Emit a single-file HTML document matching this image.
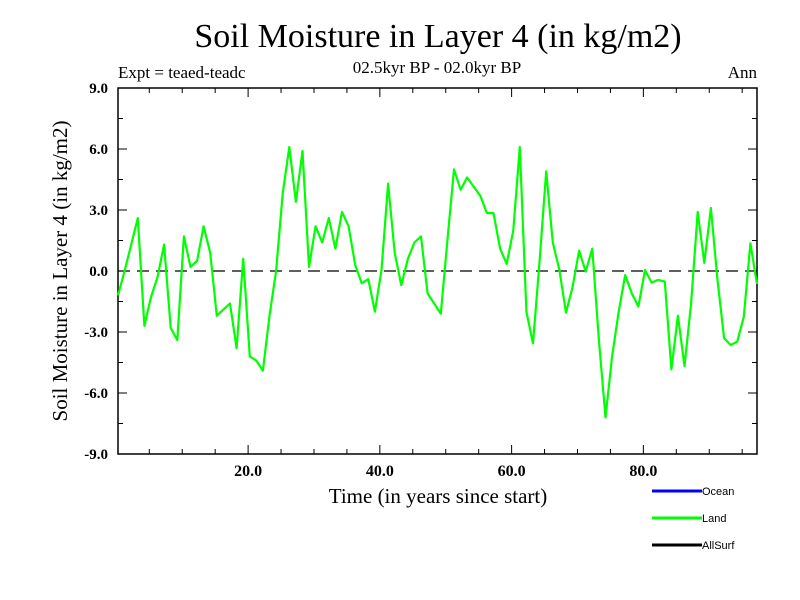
<!DOCTYPE html>
<html><head><meta charset="utf-8"><style>
body{margin:0;background:#fff;}
svg{display:block;font-family:"Liberation Serif",serif;}
</style></head><body>
<svg id="chart" width="800" height="600" xmlns="http://www.w3.org/2000/svg">
<rect width="800" height="600" fill="#fff"/>
<text x="438" y="47" font-size="34" text-anchor="middle">Soil Moisture in Layer 4 (in kg/m2)</text>
<text x="118" y="78" font-size="17">Expt = teaed-teadc</text>
<text x="437" y="73" font-size="17" text-anchor="middle">02.5kyr BP - 02.0kyr BP</text>
<text x="757" y="78" font-size="17" text-anchor="end">Ann</text>
<text x="438" y="503" font-size="21" text-anchor="middle">Time (in years since start)</text>
<text transform="translate(67,271) rotate(-90)" font-size="21" text-anchor="middle">Soil Moisture in Layer 4 (in kg/m2)</text>
<g id="axes"></g>
<g id="series"></g>
<g font-family="Liberation Sans, sans-serif" font-size="11">
<g><line x1="652" y1="491" x2="702" y2="491" stroke="#0000ff" stroke-width="3"/><text x="702" y="495">Ocean</text></g>
<g><line x1="652" y1="518" x2="702" y2="518" stroke="#00ff00" stroke-width="3"/><text x="702" y="522">Land</text></g>
<g><line x1="652" y1="545" x2="702" y2="545" stroke="#000" stroke-width="3"/><text x="702" y="549">AllSurf</text></g>
</g>
</svg>
<script>
const landValues = [-1.2,0.0,1.3,2.6,-2.7,-1.3,-0.3,1.3,-2.8,-3.4,1.7,0.2,0.5,2.2,0.9,-2.2,-1.9,-1.6,-3.8,0.6,-4.2,-4.4,-4.9,-2.2,0.0,3.8,6.1,3.4,5.9,0.2,2.2,1.4,2.6,1.1,2.9,2.2,0.3,-0.6,-0.4,-2.0,0.05,4.3,0.9,-0.7,0.6,1.4,1.7,-1.1,-1.6,-2.1,1.5,5.0,4.0,4.6,4.15,3.7,2.85,2.85,1.1,0.35,2.0,6.1,-2.0,-3.56,0.5,4.9,1.4,0.05,-2.05,-0.8,1.0,-0.03,1.1,-3.4,-7.2,-4.2,-2.0,-0.2,-1.1,-1.75,0.05,-0.57,-0.44,-0.52,-4.84,-2.2,-4.67,-1.6,2.9,0.4,3.1,-0.44,-3.3,-3.64,-3.48,-2.25,1.36,-0.64];
const yTicks = [-9,-6,-3,0,3,6,9];
const yTickLabels = ["-9.0","-6.0","-3.0","0.0","3.0","6.0","9.0"];
const xTicks = [20,40,60,80];
const xTickLabels = ["20.0","40.0","60.0","80.0"];
const startYear = 0.25;

const L=118,R=757,T=88,B=454, xmin=0.25, xmax=97.25, ymin=-9, ymax=9;
const xs=t=>L+(t-xmin)/(xmax-xmin)*(R-L);
const ys=v=>B-(v-ymin)/(ymax-ymin)*(B-T);
const NS="http://www.w3.org/2000/svg";
function mk(tag,attrs,parent){const e=document.createElementNS(NS,tag);for(const k in attrs)e.setAttribute(k,attrs[k]);parent.appendChild(e);return e;}
const axes=document.getElementById('axes');
const frame=mk('rect',{x:L,y:T,width:R-L,height:B-T,fill:'none',stroke:'#000','stroke-width':1.5},axes);


for(let t=5;t<xmax;t+=5){
  const major=t%20===0, len=major?9:5, x=xs(t);
  const tk=mk('path',{d:`M${x},${B}V${B-len}M${x},${T}V${T+len}`,stroke:'#000','stroke-width':1},axes);
  
  
}
xTicks.forEach((t,i)=>{
  const tx=mk('text',{x:xs(t),y:B+22,'font-size':16,'font-weight':'bold','text-anchor':'middle'},axes);
  tx.textContent=xTickLabels[i];
  
  
});
for(let v=-7.5;v<9;v+=1.5){
  const major=Math.abs(v%3)<1e-9, len=major?9:5, y=ys(v);
  const tk=mk('path',{d:`M${L},${y}H${L+len}M${R},${y}H${R-len}`,stroke:'#000','stroke-width':1},axes);
  
  
}
yTicks.forEach((v,i)=>{
  const tx=mk('text',{x:L-10,y:ys(v)+5,'font-size':15,'font-weight':'bold','text-anchor':'end'},axes);
  tx.textContent=yTickLabels[i];
  
  
});
const zl=mk('line',{x1:L,x2:R,y1:ys(0),y2:ys(0),stroke:'#000','stroke-width':1.3,'stroke-dasharray':'12,7'},axes);


const pts=landValues.map((v,i)=>xs(startYear+i).toFixed(1)+','+ys(v).toFixed(1)).join(' ');
const line=mk('polyline',{points:pts,fill:'none',stroke:'#00ff00','stroke-width':2.2,'stroke-linejoin':'round'},document.getElementById('series'));


</script>
</body></html>
